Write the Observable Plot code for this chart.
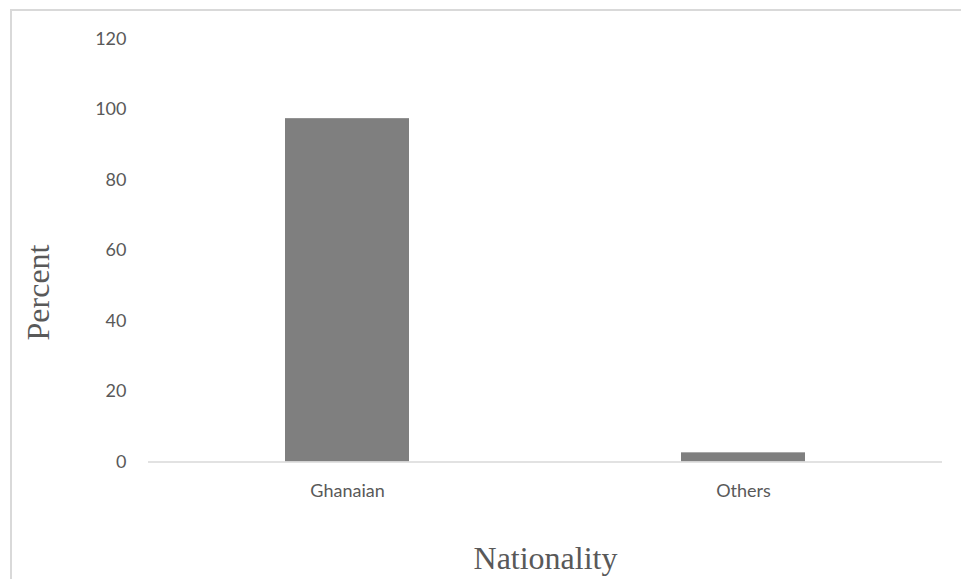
<!DOCTYPE html>
<html>
<head>
<meta charset="utf-8">
<script src="https://cdn.jsdelivr.net/npm/d3@7"></script>
<script src="https://cdn.jsdelivr.net/npm/@observablehq/plot@0.6"></script>
<style>
  html, body { margin: 0; padding: 0; background: #fff; overflow: hidden; }
  #wrap { position: relative; width: 961px; height: 579px; }
  #frame {
    position: absolute; left: 10px; top: 9px; width: 1200px; height: 900px;
    border-left: 2px solid #d9d9d9; border-top: 2px solid #d9d9d9;
    pointer-events: none;
  }
  #chart { position: absolute; left: 0; top: 0; }
</style>
</head>
<body>
<div id="wrap">
  <div id="chart"></div>
  <div id="frame"></div>
</div>
<script>
// Share of respondents by nationality (percent)
const categories = ["Ghanaian", "Others"];
const percents = [97.4, 2.6];
const yTicks = [0, 20, 40, 60, 80, 100, 120];

const rows = categories.map((c, i) => ({nationality: c, percent: percents[i]}));

const tickFont = "Lato, 'Open Sans', sans-serif";
const titleFont = "'Liberation Serif', 'DejaVu Serif', serif";

const chart = Plot.plot({
  width: 961,
  height: 579,
  marginLeft: 148,
  marginRight: 19,
  marginTop: 38.5,
  marginBottom: 117.5,
  style: {background: "transparent", fontFamily: tickFont, fontSize: "18px", color: "#595959"},
  x: {domain: categories, paddingInner: 0.6877, paddingOuter: 0.344, label: null, axis: null},
  y: {domain: [0, 120], label: null, axis: null},
  marks: [
    Plot.barY(rows, {x: "nationality", y: "percent", fill: "#7f7f7f"}),
    Plot.ruleY([0], {stroke: "#d9d9d9", strokeWidth: 1.5}),
    Plot.axisY({ticks: yTicks, tickSize: 0, tickPadding: 22, label: null,
      fontSize: 18, fill: "#595959"}),
    Plot.axisX({tickSize: 0, tickPadding: 22, label: null, fontSize: 18, fill: "#595959"}),
    Plot.text(["Nationality"], {frameAnchor: "bottom", lineAnchor: "middle", dy: 97,
      fontFamily: titleFont, fontSize: 32, fill: "#595959"}),
    Plot.text(["Percent"], {frameAnchor: "left", textAnchor: "middle", lineAnchor: "middle",
      dx: -110, dy: 42, rotate: -90, fontFamily: titleFont, fontSize: 32, fill: "#595959"})
  ]
});
document.getElementById("chart").appendChild(chart);
</script>
</body>
</html>
